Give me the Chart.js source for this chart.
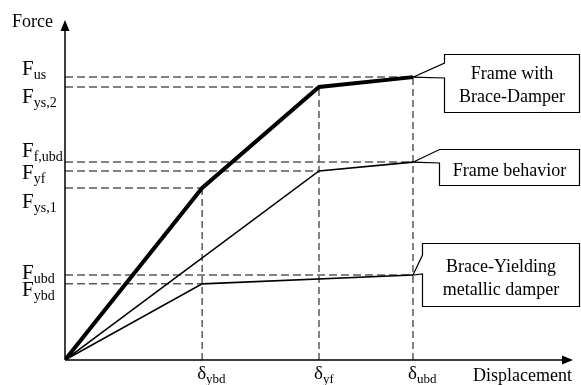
<!DOCTYPE html>
<html>
<head>
<meta charset="utf-8">
<script src="https://cdn.jsdelivr.net/npm/chart.js@4.4.1/dist/chart.umd.min.js"></script>
<style>
  html, body { margin: 0; padding: 0; background: #ffffff; }
  #wrap { width: 581px; height: 385px; position: relative; }
</style>
</head>
<body>
<div id="wrap"><canvas id="c" width="581" height="385"></canvas></div>
<script>
// ---- data (schematic values) ----
const displacementNames = ['ybd', 'yf', 'ubd'];
const displacementValues = [1.35, 2.5, 3.425];
const forceNames = ['us', 'ys,2', 'f,ubd', 'yf', 'ys,1', 'ubd', 'ybd'];
const forceValues = [8.32, 8.03, 5.82, 5.56, 5.06, 2.5, 2.24];

const frameBraceDisp = [0, 1.35, 2.5, 3.425];
const frameBraceForce = [0, 5.06, 8.03, 8.32];
const frameDisp = [0, 2.5, 3.425];
const frameForce = [0, 5.56, 5.82];
const damperDisp = [0, 1.35, 3.425];
const damperForce = [0, 2.24, 2.5];

// guide lines: [force label index, displacement label index]
const guidePairs = [[0, 2], [1, 1], [2, 2], [3, 1], [4, 0], [5, 2], [6, 0]];
const verticalGuides = [[0, 4], [1, 1], [2, 0]]; // [disp index, force index]

const seriesNames = ['Frame with|Brace-Damper', 'Frame behavior', 'Brace-Yielding|metallic damper'];
const xMax = 5.0, yMax = 10.0;

// ---- layout (pixel offsets, styles) ----
const yLabelDy = [-2, 16, -5, 8, 20, 4, 12];
const FONT = '"Liberation Serif", "Times New Roman", serif';
const GUIDE_COLOR = '#5a5a5a';

function pts(xs, ys) { return xs.map((x, i) => ({ x: x, y: ys[i] })); }

const datasets = [];
datasets.push({ data: pts(frameBraceDisp, frameBraceForce), borderColor: '#000', borderWidth: 4, order: 0 });
datasets.push({ data: pts(frameDisp, frameForce), borderColor: '#000', borderWidth: 1.6, order: 1 });
datasets.push({ data: pts(damperDisp, damperForce), borderColor: '#000', borderWidth: 1.6, order: 2 });
guidePairs.forEach(([fi, di]) => {
  datasets.push({
    data: [{ x: 0, y: forceValues[fi] }, { x: displacementValues[di], y: forceValues[fi] }],
    borderColor: GUIDE_COLOR, borderWidth: 1.5, borderDash: [8, 4], order: 5
  });
});
verticalGuides.forEach(([di, fi]) => {
  datasets.push({
    data: [{ x: displacementValues[di], y: 0 }, { x: displacementValues[di], y: forceValues[fi] }],
    borderColor: GUIDE_COLOR, borderWidth: 1.5, borderDash: [7, 4], order: 5
  });
});

function drawSub(ctx, main, sub, x, y, mainSize, subSize, subDy) {
  ctx.font = mainSize + 'px ' + FONT;
  ctx.fillText(main, x, y);
  const w = ctx.measureText(main).width;
  ctx.font = subSize + 'px ' + FONT;
  ctx.fillText(sub, x + w, y + subDy);
}

function callout(ctx, px, py, box, tailTop, tailBot, lines, textTop, lineH) {
  const [l, t, r, b] = box;
  ctx.save();
  ctx.beginPath();
  ctx.moveTo(l, t);
  ctx.lineTo(r, t);
  ctx.lineTo(r, b);
  ctx.lineTo(l, b);
  ctx.lineTo(l, tailBot);
  ctx.lineTo(px, py);
  ctx.lineTo(l, tailTop);
  ctx.closePath();
  ctx.fillStyle = '#fff';
  ctx.fill();
  ctx.strokeStyle = '#000';
  ctx.lineWidth = 1.2;
  ctx.lineJoin = 'miter';
  ctx.stroke();
  ctx.fillStyle = '#000';
  ctx.font = '18px ' + FONT;
  ctx.textAlign = 'center';
  ctx.textBaseline = 'alphabetic';
  lines.forEach((s, i) => ctx.fillText(s, (l + r) / 2, textTop + i * lineH));
  ctx.restore();
}

const decor = {
  id: 'decor',
  afterDatasetsDraw(chart) {
    const ctx = chart.ctx;
    const xs = chart.scales.x, ys = chart.scales.y;
    const ox = xs.getPixelForValue(0), oy = ys.getPixelForValue(0);
    const topY = ys.getPixelForValue(yMax), rightX = xs.getPixelForValue(xMax);
    ctx.save();
    // axes
    ctx.strokeStyle = '#000';
    ctx.fillStyle = '#000';
    ctx.lineWidth = 1.5;
    ctx.beginPath();
    ctx.moveTo(ox, oy); ctx.lineTo(ox, topY + 8);
    ctx.moveTo(ox, oy); ctx.lineTo(rightX - 8, oy);
    ctx.stroke();
    ctx.beginPath();
    ctx.moveTo(ox, topY); ctx.lineTo(ox - 4.5, topY + 11); ctx.lineTo(ox + 4.5, topY + 11); ctx.closePath(); ctx.fill();
    ctx.beginPath();
    ctx.moveTo(rightX, oy); ctx.lineTo(rightX - 11, oy - 4.5); ctx.lineTo(rightX - 11, oy + 4.5); ctx.closePath(); ctx.fill();

    // axis titles
    ctx.textAlign = 'left';
    ctx.textBaseline = 'alphabetic';
    ctx.font = '18px ' + FONT;
    ctx.fillText('Force', 12, topY + 7);
    ctx.fillText('Displacement', 473, oy + 21);

    // force labels
    forceNames.forEach((n, i) => {
      const y = ys.getPixelForValue(forceValues[i]);
      drawSub(ctx, 'F', n, 22, y + yLabelDy[i], 21, 14, 4);
    });
    // displacement labels
    displacementNames.forEach((n, i) => {
      const x = xs.getPixelForValue(displacementValues[i]);
      drawSub(ctx, 'δ', n, x - 5, oy + 19, 19, 13, 4);
    });

    // callouts
    const p1x = xs.getPixelForValue(frameBraceDisp[3]), p1y = ys.getPixelForValue(frameBraceForce[3]);
    callout(ctx, p1x, p1y, [444.5, 54.5, 579.5, 112.5], 63, 78, seriesNames[0].split('|'), 79, 23);
    const p2x = xs.getPixelForValue(frameDisp[2]), p2y = ys.getPixelForValue(frameForce[2]);
    callout(ctx, p2x, p2y, [439.5, 149.5, 579.5, 185.5], 149.5, 163, seriesNames[1].split('|'), 176, 23);
    const p3x = xs.getPixelForValue(damperDisp[2]), p3y = ys.getPixelForValue(damperForce[2]);
    callout(ctx, p3x, p3y, [422.5, 243.5, 579.5, 306.5], 255, 274, seriesNames[2].split('|'), 272, 23);
    ctx.restore();
  }
};

new Chart(document.getElementById('c'), {
  type: 'line',
  data: { datasets: datasets },
  options: {
    responsive: false,
    animation: false,
    events: [],
    layout: { padding: { left: 65, right: 8, top: 20, bottom: 25 } },
    elements: { point: { radius: 0 }, line: { tension: 0, borderCapStyle: 'butt' } },
    plugins: { legend: { display: false }, tooltip: { enabled: false } },
    scales: {
      x: { type: 'linear', min: 0, max: xMax, display: false },
      y: { type: 'linear', min: 0, max: yMax, display: false }
    }
  },
  plugins: [decor]
});
</script>
</body>
</html>
